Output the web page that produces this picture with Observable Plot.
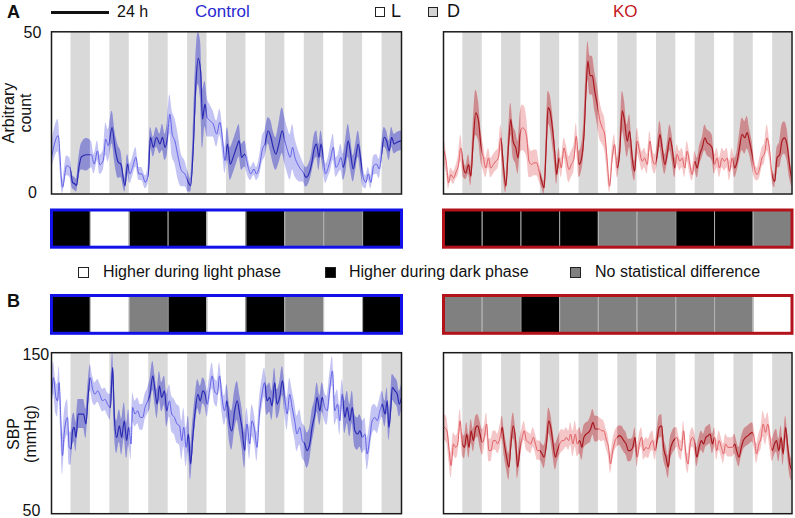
<!DOCTYPE html>
<html><head><meta charset="utf-8">
<script src="https://cdn.jsdelivr.net/npm/d3@7"></script>
<script src="https://cdn.jsdelivr.net/npm/@observablehq/plot@0.6"></script>
<style>
html,body{margin:0;padding:0;background:#fff}
body{width:795px;height:518px;overflow:hidden;font-family:"Liberation Sans",Arial,Helvetica,sans-serif;color:#111}
#root{position:relative;width:795px;height:518px}
.t{position:absolute;white-space:nowrap;line-height:1}
.sq{position:absolute;box-sizing:border-box;border:1px solid #222}
.ylab{position:absolute;text-align:center;font-size:16px;line-height:17px;transform:rotate(-90deg);transform-origin:50% 50%}
</style></head>
<body><div id="root"></div>
<script>
// ---------- data (hour, mean, sem) ----------
const ctlActivity = [[0,11.3,4],[4.1,18.0,5],[6.8,2.1,2],[9.3,8.7,3],[11.3,8.2,3],[13.0,3.6,2],[14.4,3.1,2],[15.4,2.6,2],[16.9,8.2,3],[18.5,11.5,4],[21.6,12.1,5],[24.7,12.1,4],[26.3,9.2,3],[28.4,13.3,3],[29.8,9.0,3],[31.9,10.3,3],[33.5,16.9,5],[35.0,14.9,5],[37.4,20.5,5],[39.1,14.4,5],[41.2,9.8,5],[42.8,9.2,4],[45.3,2.6,2],[46.9,9.2,3],[48.4,6.2,3],[50.0,8.2,3],[52.1,11.3,3],[53.9,6.2,2],[55.6,6.2,2],[58.0,3.6,2],[59.7,6.2,3],[61.1,17.5,3],[62.8,14.4,3],[64.8,17.5,3],[66.9,15.4,3],[68.5,17.5,4],[70.0,14.4,4],[71.6,17.5,5],[73.0,24.6,6],[74.5,18.5,7],[76.1,16.4,7],[78.2,11.3,7],[80.2,7.2,5],[82.3,6.2,4],[84.4,3.6,3],[85.8,2.6,2],[87.4,13.3,5],[89.1,33.9,8],[90.5,41.8,8],[92.0,38.0,9],[93.2,23.1,9],[94.7,27.7,7],[96.1,23.6,6],[97.7,22.6,5],[99.8,21.6,4],[101.9,18.5,4],[103.9,22.1,4],[105.6,16.4,4],[107.0,10.3,4],[108.6,15.4,5],[110.3,9.2,5],[112.1,11.3,5],[114.2,14.4,5],[115.8,16.4,5],[117.3,11.3,4],[119.3,12.3,4],[121.4,8.2,3],[123.0,6.2,2],[124.9,7.7,2],[126.5,6.2,2],[128.6,9.2,3],[130.2,13.9,4],[131.7,15.4,4],[133.7,19.5,4],[135.4,17.5,5],[136.8,14.4,5],[138.5,12.3,5],[140.3,15.4,6],[142.4,19.5,7],[144.0,16.4,7],[145.7,13.3,7],[147.3,11.3,7],[148.8,14.4,7],[150.2,11.3,6],[151.9,9.2,5],[153.7,7.7,4],[155.3,6.7,3],[157.0,5.1,3],[158.8,6.2,3],[160.5,9.2,3],[162.1,13.9,4],[163.6,15.4,4],[165.0,11.3,4],[166.3,15.4,4],[167.7,11.3,4],[169.1,6.2,3],[170.8,8.2,3],[172.4,11.3,4],[173.9,14.4,4],[175.5,8.2,3],[177.0,9.2,3],[178.6,11.3,4],[180.0,8.2,4],[181.5,11.3,5],[183.1,16.4,5],[184.6,12.3,5],[186.2,7.7,4],[187.7,11.3,4],[189.3,15.4,4],[190.9,10.3,4],[192.4,5.1,3],[194.0,3.6,2],[195.5,6.2,2],[197.1,3.6,2],[198.8,8.7,3],[200.6,9.2,3],[202.3,7.7,3],[203.7,12.3,3],[205.3,17.5,3],[206.8,16.4,3],[208.4,13.3,3],[209.9,17.5,3],[211.5,15.4,3],[213.0,15.9,3],[216,16.4,3]];

const koActivity = [[0.4,13.2,4],[1.9,9.1,3],[3.1,3.4,2],[4.5,6.0,2],[6.2,4.9,2],[7.6,6.5,2],[9.3,9.1,3],[10.7,14.2,4],[12.4,8.0,3],[13.8,6.5,2],[15.5,9.1,3],[16.9,5.5,3],[18.4,16.3,5],[20.0,25.0,7],[21.7,22.5,6],[23.1,15.3,5],[24.8,11.1,4],[26.2,8.0,3],[27.9,11.1,3],[29.3,8.0,3],[30.9,9.1,3],[32.4,10.1,3],[34.0,11.1,3],[35.5,17.3,4],[36.9,10.1,4],[38.6,2.4,2],[40.2,14.2,4],[41.7,23.0,5],[43.1,16.3,5],[44.8,14.2,5],[46.2,11.1,5],[47.5,18.4,6],[48.9,20.4,7],[50.3,19.9,7],[51.6,17.3,6],[53.0,10.1,5],[54.5,9.1,4],[56.1,9.6,4],[57.8,9.6,4],[59.2,7.0,3],[60.9,3.9,2],[62.3,1.9,2],[63.8,16.3,4],[64.8,26.6,5],[66.0,25.6,5],[67.5,20.4,5],[68.9,13.2,4],[70.1,6.0,3],[71.6,11.1,3],[73.0,8.0,3],[74.7,14.2,3],[76.1,11.1,4],[77.8,7.5,4],[79.2,9.1,4],[80.9,11.1,4],[82.3,17.8,4],[84.0,9.1,4],[85.4,10.6,4],[87.1,18.4,5],[88.5,33.8,6],[89.5,41.0,6],[90.8,36.5,6],[92.2,36.5,6],[93.7,31.8,6],[95.3,27.6,6],[96.8,23.0,6],[98.4,20.4,5],[99.9,18.4,5],[101.5,10.1,4],[102.9,2.4,2],[104.6,11.1,3],[106.0,15.3,3],[107.7,8.0,3],[109.1,12.2,3],[110.8,25.6,6],[112.2,22.5,6],[113.9,16.3,5],[115.3,19.4,5],[117.0,11.1,4],[118.4,7.0,3],[120.1,16.3,4],[121.5,13.2,3],[123.2,10.1,3],[124.6,11.1,3],[126.3,9.1,3],[127.9,16.3,3],[129.4,11.1,3],[131.0,9.1,3],[132.5,12.2,3],[134.1,18.4,4],[135.5,14.2,4],[137.2,9.1,3],[138.6,12.2,3],[140.3,17.3,4],[141.7,14.2,4],[143.4,8.0,3],[144.8,12.2,3],[146.5,10.1,3],[147.9,11.1,3],[149.6,8.0,3],[151.0,13.2,3],[152.7,9.1,3],[154.1,6.0,2],[155.8,10.1,3],[157.2,8.0,3],[158.9,12.2,3],[160.3,14.2,3],[162.0,17.3,4],[163.4,15.8,4],[164.8,15.3,4],[166.5,14.2,4],[167.9,9.1,3],[169.6,11.1,3],[171.0,8.0,3],[172.7,11.1,3],[174.1,10.1,3],[175.8,11.1,3],[177.2,7.0,3],[178.9,11.1,3],[180.5,8.0,3],[182.0,10.1,3],[183.4,14.2,4],[185.1,18.4,5],[186.7,17.3,5],[188.2,18.9,5],[189.6,16.3,4],[191.3,12.2,4],[192.7,8.0,3],[194.3,6.0,2],[196.0,8.0,3],[197.4,11.1,3],[199.1,12.6,3],[200.5,17.3,4],[202.2,13.2,3],[203.6,6.0,2],[205.3,3.9,2],[206.7,11.1,3],[208.4,12.2,4],[209.8,16.3,5],[211.3,17.3,5],[212.9,15.3,5],[214.4,9.1,4],[216.0,3.9,2]];

const ctlSBP = [[0,120,10],[1.2,134.5,10],[2.7,122.2,10],[3.7,120.1,10],[4.7,131.4,10],[5.8,107.7,12],[6.8,86.1,12],[7.8,99.5,12],[8.9,107.7,11],[9.9,109.8,11],[10.9,91.2,11],[12.0,90.2,10],[13.0,101.5,9],[14.0,103.6,9],[15.1,97.4,9],[16.5,111.9,9],[18.1,111.9,9],[19.8,111.9,9],[21.2,105.7,9],[22.7,124.2,8],[23.9,134.5,8],[25.4,127.3,8],[26.8,124.2,7],[28.5,126.3,7],[30.1,123.2,7],[31.5,120.1,7],[33.0,121.1,7],[34.6,118.0,7],[36.3,116.0,8],[37.7,140.7,9],[38.8,109.8,9],[40.2,97.4,10],[41.9,104.6,10],[43.3,97.4,11],[44.9,107.7,11],[46.4,95.4,11],[47.6,103.6,11],[49.1,93.3,10],[50.1,116.0,9],[51.5,111.9,8],[53.2,113.9,8],[54.8,109.8,8],[56.3,109.8,8],[57.7,116.0,8],[59.4,120.1,8],[60.8,124.2,9],[62.5,135.6,9],[63.9,126.3,9],[65.2,118.0,9],[66.6,129.4,9],[68.0,122.2,9],[69.7,126.3,9],[71.1,113.9,10],[72.8,120.1,10],[74.2,111.9,11],[75.9,109.8,11],[77.5,105.7,12],[79.0,104.6,12],[80.4,95.4,12],[81.6,103.6,12],[83.1,91.2,12],[84.5,99.5,11],[85.8,80.9,10],[87.2,97.4,10],[88.7,113.9,9],[90.3,124.2,9],[91.8,120.1,9],[93.4,126.3,8],[94.8,124.2,8],[96.1,118.0,8],[97.5,126.3,8],[99.2,135.6,8],[100.6,126.3,8],[102.3,124.2,8],[103.7,135.6,8],[105.2,122.2,9],[106.8,113.9,9],[108.2,120.1,10],[109.9,105.7,11],[111.3,101.5,12],[113.0,113.9,12],[114.6,120.1,12],[116.1,111.9,12],[117.5,103.6,12],[119.2,89.2,11],[120.6,105.7,10],[122.3,93.3,10],[123.7,107.7,10],[125.4,101.5,9],[126.8,91.2,9],[128.5,113.9,9],[129.9,124.2,9],[131.5,131.4,9],[133.0,120.1,9],[134.6,122.2,9],[136.1,117.0,9],[137.7,131.4,9],[139.2,118.0,9],[140.8,122.2,9],[142.5,132.5,9],[143.9,122.2,9],[145.4,111.9,10],[147.0,124.2,10],[148.5,116.0,11],[150.1,107.7,11],[151.5,99.5,11],[153.2,103.6,11],[154.8,95.4,11],[156.3,93.3,11],[157.7,89.2,11],[159.4,93.3,10],[160.8,103.6,10],[162.5,111.9,9],[163.9,122.2,9],[165.6,113.9,9],[167.0,122.2,9],[168.7,116.0,9],[170.1,113.9,9],[171.8,128.4,9],[173.4,138.7,9],[174.8,113.9,9],[176.5,118.0,9],[177.9,107.7,9],[179.4,124.2,9],[181.0,109.8,10],[182.5,116.0,10],[184.1,107.7,10],[185.6,116.0,10],[187.2,101.5,10],[188.9,99.5,10],[190.3,101.5,10],[192.0,97.4,10],[193.4,99.5,10],[194.8,87.1,10],[196.5,97.4,9],[197.9,107.7,9],[199.6,109.8,8],[201.0,107.7,8],[202.7,113.9,8],[204.1,118.0,8],[205.8,111.9,8],[207.2,120.1,8],[208.2,103.6,8],[209.3,113.9,8],[210.3,128.4,8],[212.0,126.3,8],[213.4,124.2,8],[214.6,118.0,8],[216.0,122.2,8]];

const koSBP = [[0.6,103.6,8],[2.1,101.5,8],[3.5,89.2,8],[4.7,79.9,8],[6.2,93.3,7],[7.6,91.2,7],[8.8,93.3,7],[10.3,107.7,7],[11.7,93.3,7],[13.0,91.2,7],[14.4,99.5,7],[15.8,91.2,7],[17.1,101.5,7],[18.5,95.4,7],[20.0,103.6,7],[21.2,104.6,7],[22.6,99.5,8],[24.1,94.3,8],[25.3,97.4,7],[26.7,105.7,7],[28.2,89.2,7],[29.4,89.2,7],[30.9,95.4,6],[32.3,95.4,6],[33.5,93.3,6],[35.0,97.4,7],[36.4,103.6,7],[37.7,93.3,8],[39.1,85.1,8],[40.5,78.9,8],[41.8,93.3,8],[43.2,104.6,8],[44.7,95.4,7],[45.9,78.9,7],[47.3,89.2,7],[48.8,97.4,6],[50.0,101.5,6],[51.4,95.4,6],[52.9,94.3,6],[54.1,93.3,6],[55.6,97.4,6],[57.0,93.3,6],[58.2,89.2,6],[59.7,89.2,6],[61.1,87.1,6],[62.3,85.1,7],[63.8,93.3,7],[65.2,107.7,8],[66.5,103.6,8],[67.9,93.3,8],[69.3,85.1,8],[70.6,89.2,7],[72.0,93.3,7],[73.5,95.4,7],[74.7,95.4,6],[76.1,97.4,6],[77.6,95.4,6],[78.8,99.5,7],[80.2,93.3,8],[81.7,99.5,8],[82.9,93.3,8],[84.4,95.4,8],[85.8,91.2,8],[87.0,97.4,7],[88.5,99.5,7],[89.9,100.5,7],[91.2,102.6,8],[92.6,106.7,8],[94.0,102.6,8],[95.3,102.6,8],[96.7,102.6,7],[98.1,101.5,7],[99.4,101.5,6],[100.8,96.4,6],[102.3,91.2,6],[103.5,80.9,6],[104.9,89.2,6],[106.4,95.4,6],[107.6,97.4,6],[109.1,98.5,6],[110.5,97.4,7],[111.7,95.4,7],[113.2,93.3,7],[114.6,89.2,7],[115.8,89.2,7],[117.3,91.2,6],[118.7,97.4,6],[120.0,85.1,6],[121.4,93.3,6],[122.8,97.4,6],[124.1,89.2,6],[125.5,91.2,6],[127.0,90.2,6],[128.2,93.3,6],[129.6,95.4,6],[131.1,89.2,6],[132.3,95.4,6],[133.7,103.6,7],[135.2,104.6,7],[136.4,91.2,7],[137.9,85.1,7],[139.3,78.9,7],[140.5,89.2,7],[142.0,94.3,7],[143.4,96.4,7],[144.7,97.4,6],[146.1,91.2,6],[147.5,89.2,6],[148.8,101.5,6],[150.2,87.1,6],[151.6,80.9,6],[152.9,93.3,6],[154.3,97.4,6],[155.8,93.3,6],[157.0,85.1,6],[158.4,91.2,6],[159.9,95.4,6],[161.1,93.3,6],[162.6,97.4,6],[164.0,98.5,6],[165.2,99.5,6],[166.7,93.3,6],[168.1,97.4,6],[169.3,89.2,6],[170.8,95.4,6],[172.2,91.2,6],[173.5,87.1,6],[174.9,93.3,6],[176.3,91.2,6],[177.6,91.2,6],[179.0,91.2,6],[180.5,93.3,6],[181.7,89.2,6],[183.1,85.1,6],[184.6,91.2,6],[185.8,95.4,6],[187.2,97.4,6],[188.7,98.5,6],[189.9,99.5,6],[191.4,100.5,6],[192.8,95.4,6],[194.0,87.1,6],[195.5,93.3,6],[196.9,97.4,7],[198.1,105.7,8],[199.6,100.5,8],[201.0,105.7,7],[202.3,97.4,7],[203.7,89.2,7],[205.1,93.3,7],[206.4,95.4,7],[207.8,89.2,7],[209.3,97.4,7],[210.5,87.1,7],[212.0,103.6,7],[213.4,91.2,7],[214.6,80.9,7],[216.0,76.8,7]];

// day-by-day phase comparison: L = higher during light, D = higher during dark, N = no difference
const ctlActivityPhase = ["D","L","D","D","L","D","N","N","D"];
const koActivityPhase  = ["D","D","D","D","N","N","D","D","N"];
const ctlSBPPhase      = ["D","L","N","D","L","D","N","L","D"];
const koSBPPhase       = ["N","N","D","N","N","N","N","N","L"];

const activityTicks = [0, 50];
const sbpTicks = [50, 150];
const nDays = 9;

// ---------- helpers ----------
const root = document.getElementById("root");
const NS = "http://www.w3.org/2000/svg";
function place(node, left, top) {
  const d = document.createElement("div");
  d.style.cssText = `position:absolute;left:${left}px;top:${top}px;line-height:0`;
  d.appendChild(node); root.appendChild(d); return d;
}
function html(tag, cls, style, text) {
  const e = document.createElement(tag); if (cls) e.className = cls;
  e.style.cssText = style; if (text != null) e.textContent = text; root.appendChild(e); return e;
}
const darkBands = d3.range(nDays).map(i => ({x1: i * 24 + 12, x2: i * 24 + 24}));
let clipN = 0;

function seriesChart(rows, o) {
  const data = rows.map(([h, m, s]) => ({h, m, lo: m - s, hi: m + s}));
  const marks = [
    Plot.rect(darkBands, {x1: "x1", x2: "x2", fill: "#d9d9d9"}),
    Plot.areaY(data, {x: "h", y1: "lo", y2: "hi", fill: o.ribbonLight, curve: "monotone-x", clip: true}),
    Plot.line(data, {x: "h", y: "m", stroke: o.lineLight, strokeWidth: 1, curve: "monotone-x", clip: true}),
    Plot.areaY(data, {x: "h", y1: "lo", y2: "hi", fill: o.ribbonDark, curve: "monotone-x", clip: true, ariaDescription: "darkphase"}),
    Plot.line(data, {x: "h", y: "m", stroke: o.lineDark, strokeWidth: 1.2, curve: "monotone-x", clip: true, ariaDescription: "darkphase"}),
    Plot.frame({stroke: "#1a1a1a", strokeWidth: 1.5})
  ];
  if (o.ticks) {
    const [lo, hi] = o.ticks;
    marks.push(Plot.text([hi], {y: d => d, text: d => String(d), frameAnchor: "left", dx: o.tickDx, dy: o.topDy, textAnchor: o.tickAnchor, fontSize: 16, fill: "#111"}));
    marks.push(Plot.text([lo], {y: d => d, text: d => String(d), frameAnchor: "left", dx: o.tickDx, dy: o.botDy, textAnchor: o.tickAnchor, fontSize: 16, fill: "#111"}));
  }
  const svg = Plot.plot({
    width: o.width, height: o.height,
    marginLeft: o.ml, marginRight: o.mr, marginTop: o.mt, marginBottom: o.mb,
    x: {domain: [0, 216], axis: null},
    y: {domain: o.yDomain, axis: null},
    style: {background: "transparent", fontFamily: "Liberation Sans, Arial, sans-serif", overflow: "visible"},
    marks
  });
  const x = svg.scale("x");
  const id = "darkclip" + (clipN++);
  const defs = document.createElementNS(NS, "defs");
  const cp = document.createElementNS(NS, "clipPath"); cp.setAttribute("id", id);
  for (const b of darkBands) {
    const a = x.apply(b.x1), c = x.apply(b.x2);
    const r = document.createElementNS(NS, "rect");
    r.setAttribute("x", a); r.setAttribute("width", c - a);
    r.setAttribute("y", o.mt); r.setAttribute("height", o.height - o.mt - o.mb);
    cp.appendChild(r);
  }
  defs.appendChild(cp); svg.insertBefore(defs, svg.firstChild);
  svg.querySelectorAll('[aria-description="darkphase"]').forEach(g => {
    const w = document.createElementNS(NS, "g");
    w.setAttribute("clip-path", `url(#${id})`);
    g.parentNode.insertBefore(w, g); w.appendChild(g);
  });
  return svg;
}

function phaseBar(cats, o) {
  const cells = cats.map((c, i) => ({i, c}));
  return Plot.plot({
    width: o.width, height: o.height,
    marginLeft: o.ml, marginRight: o.mr, marginTop: o.mt, marginBottom: o.mb,
    x: {domain: [0, 216], axis: null}, y: {axis: null},
    color: {domain: ["L", "D", "N"], range: ["#ffffff", "#000000", "#808080"]},
    style: {background: "transparent", overflow: "visible"},
    marks: [
      Plot.rect(cells, {x1: d => d.i * 24, x2: d => (d.i + 1) * 24, fill: "c"}),
      Plot.ruleX(cells.slice(1), {x: d => d.i * 24, stroke: "#b4b4b4", strokeWidth: 1}),
      Plot.frame({stroke: o.border, strokeWidth: 3})
    ]
  });
}

const blue = {ribbonLight: "#c4c4f4", ribbonDark: "#8e8ed2", lineLight: "#6262e6", lineDark: "#2a2ab4"};
const red  = {ribbonLight: "#f5c6c7", ribbonDark: "#cc8c8f", lineLight: "#e06066", lineDark: "#a8181f"};
const ctlGeom = {width: 402, ml: 51, mr: 1};
const koGeom  = {width: 395, ml: 43, mr: 3.5};

// ---------- panel A ----------
place(seriesChart(ctlActivity, {...blue, ...ctlGeom, height: 182, mt: 10.3, mb: 9.5, yDomain: [0, 50], ticks: activityTicks, tickDx: -19, tickAnchor: "middle", topDy: 1, botDy: -1}), 0, 21);
place(seriesChart(koActivity, {...red, ...koGeom, height: 182, mt: 10.3, mb: 9.5, yDomain: [0, 50]}), 400, 21);
place(phaseBar(ctlActivityPhase, {...ctlGeom, height: 56, mt: 9.5, mb: 9.3, border: "#1212e8"}), 0, 200);
place(phaseBar(koActivityPhase, {...koGeom, height: 56, mt: 9.5, mb: 9.3, border: "#b3121b"}), 400, 200);

// ---------- panel B ----------
place(phaseBar(ctlSBPPhase, {...ctlGeom, height: 58, mt: 10, mb: 10.2, border: "#1212e8"}), 0, 285);
place(phaseBar(koSBPPhase, {...koGeom, height: 58, mt: 10, mb: 10.2, border: "#b3121b"}), 400, 285);
place(seriesChart(ctlSBP, {...blue, ...ctlGeom, height: 176, mt: 10.2, mb: 4.8, yDomain: [50, 150], ticks: sbpTicks, tickDx: -29, tickAnchor: "start", topDy: 2, botDy: -3}), 0, 342);
place(seriesChart(koSBP, {...red, ...koGeom, height: 176, mt: 10.2, mb: 4.8, yDomain: [50, 150]}), 400, 342);

// ---------- text, header and legend ----------
html("div", "t", "left:7px;top:3px;font-size:18px;font-weight:bold", "A");
html("div", "t", "left:7px;top:292px;font-size:18px;font-weight:bold", "B");
html("div", "", "position:absolute;left:51px;top:10.5px;width:58px;height:3px;background:#111");
html("div", "t", "left:117px;top:4px;font-size:16px", "24 h");
html("div", "t", "left:195px;top:3px;font-size:17px;color:#2a2ad0", "Control");
html("div", "sq", "left:375px;top:7px;width:10px;height:10px;background:#fff");
html("div", "t", "left:391px;top:2px;font-size:18px", "L");
html("div", "sq", "left:428px;top:7px;width:10px;height:10px;background:#d3d3d3");
html("div", "t", "left:447px;top:2px;font-size:18px", "D");
html("div", "t", "left:613px;top:3px;font-size:17px;color:#c4161c", "KO");

html("div", "sq", "left:78px;top:267px;width:11px;height:11px;background:#fff");
html("div", "t", "left:103px;top:264px;font-size:16px", "Higher during light phase");
html("div", "sq", "left:325px;top:267px;width:11px;height:11px;background:#000");
html("div", "t", "left:349px;top:264px;font-size:16px", "Higher during dark phase");
html("div", "sq", "left:570px;top:267px;width:11px;height:11px;background:#808080");
html("div", "t", "left:595px;top:264px;font-size:16px", "No statistical difference");

const yl1 = html("div", "ylab", "left:-63px;top:96px;width:160px;height:34px");
yl1.innerHTML = "Arbitrary<br>count";
const yl2 = html("div", "ylab", "left:-58px;top:417px;width:160px;height:34px");
yl2.innerHTML = "SBP<br>(mmHg)";
</script>
</body></html>
